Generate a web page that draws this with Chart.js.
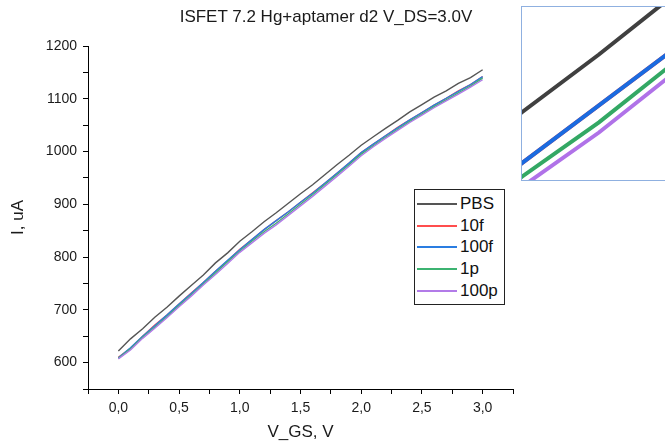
<!DOCTYPE html>
<html>
<head>
<meta charset="utf-8">
<script src="https://cdn.jsdelivr.net/npm/chart.js@4.4.1/dist/chart.umd.min.js"></script>
<style>
  body { margin: 0; width: 665px; height: 448px; overflow: hidden; background: #fff; font-family: "Liberation Sans", Arial, sans-serif; }
  #wrap { position: relative; width: 665px; height: 448px; }
  #title { position: absolute; left: 0; width: 652px; top: 7px; text-align: center; font-size: 17px; color: #1a1a1a; }
  #legend { position: absolute; left: 414px; top: 189px; width: 89px; height: 111px; border: 1px solid #222; background: #fff; padding-top: 3px; box-sizing: content-box; }
  .row { height: 21.7px; display: flex; align-items: center; font-size: 17px; color: #111; }
  .sample { width: 40px; height: 2px; margin-left: 2px; margin-right: 3px; }
  #inset { position: absolute; left: 521px; top: 6px; width: 200px; height: 173px; border: 1px solid #8fb0e0; overflow: hidden; background: #fff; }
</style>
</head>
<body>
<div id="wrap">
  <canvas id="main" width="665" height="448"></canvas>
  <div id="title">ISFET 7.2 Hg+aptamer d2 V_DS=3.0V</div>
  <div id="legend"></div>
  <div id="inset"><canvas id="zoom" width="200" height="173"></canvas></div>
</div>
<script>
// V_GS, V
const vgs = [0.0, 0.1, 0.2, 0.3, 0.4, 0.5, 0.6, 0.7, 0.8, 0.9, 1.0,
  1.1, 1.2, 1.3, 1.4, 1.5, 1.6, 1.7, 1.8, 1.9, 2.0,
  2.1, 2.2, 2.3, 2.4, 2.5, 2.6, 2.7, 2.8, 2.9, 3.0];

// I, uA
const pbs = [622, 645, 664, 686, 705, 726, 746, 766, 789, 808, 830,
  848, 867, 884, 902, 920, 937, 956, 975, 993, 1012,
  1028, 1044, 1059, 1075, 1089, 1103, 1115, 1129, 1140, 1155];
const f10 = [610, 627, 650, 671, 690, 711, 732, 752, 773, 793, 815,
  833, 852, 869, 886, 904, 922, 940, 959, 978, 998,
  1014, 1030, 1046, 1060, 1074, 1088, 1101, 1115, 1127, 1142];
const f100 = [609, 628, 650, 670, 690, 711, 731, 752, 773, 794, 814,
  833, 852, 869, 886, 904, 921, 940, 959, 978, 998,
  1014, 1030, 1045, 1060, 1074, 1088, 1101, 1114, 1127, 1142];
const p1 = [608, 626, 648, 667, 687, 708, 728, 749, 770, 791, 811,
  830, 848, 864, 882, 900, 918, 937, 956, 975, 995,
  1011, 1027, 1042, 1057, 1071, 1085, 1098, 1111, 1124, 1139];
const p100 = [607, 624, 646, 665, 685, 706, 726, 747, 767, 788, 809,
  827, 845, 861, 879, 897, 915, 934, 953, 972, 992,
  1009, 1025, 1040, 1055, 1069, 1083, 1096, 1109, 1122, 1136];

const seriesNames = ["PBS", "10f", "100f", "1p", "100p"];
const seriesData = [pbs, f10, f100, p1, p100];
const seriesColors = ["#555555", "#ff4d4d", "#2a7de1", "#3cb371", "#b27be8"];
const zoomColors = ["#404040", "#ff3b3b", "#1a6be0", "#33a864", "#b072e8"];

// zoom window of the inset
const zoomX = [1.2, 1.46];
const zoomY = [847, 898];

function makeSets(colors, width) {
  return seriesNames.map((name, i) => ({
    label: name,
    data: vgs.map((x, j) => ({ x: x, y: seriesData[i][j] })),
    borderColor: colors[i],
    backgroundColor: colors[i],
    borderWidth: width,
    pointRadius: 0,
    tension: 0,
    order: seriesNames.length - i, // later series on top
  }));
}

const tickFont = { family: "Liberation Sans", size: 14 };

new Chart(document.getElementById("main"), {
  type: "line",
  data: { datasets: makeSets(seriesColors, 1.4) },
  options: {
    responsive: false,
    animation: false,
    layout: { padding: { left: 0, top: 46, right: 152, bottom: 0 } },
    plugins: { legend: { display: false }, tooltip: { enabled: false } },
    scales: {
      x: {
        type: "linear",
        min: -0.25,
        max: 3.25,
        afterFit: (s) => { s.height = 59; },
        border: { color: "#000", width: 1 },
        grid: { drawOnChartArea: false, color: "#000", tickLength: 5 },
        ticks: {
          stepSize: 0.25,
          autoSkip: false,
          maxRotation: 0,
          padding: 6,
          color: "#1a1a1a",
          font: tickFont,
          callback: (v) => {
            const h = v * 2;
            if (Math.abs(h - Math.round(h)) < 1e-6 && v > -0.01 && v < 3.01) {
              return (Math.round(h) / 2).toFixed(1).replace(".", ",");
            }
            return "";
          },
        },
        title: { display: true, text: "V_GS, V", color: "#1a1a1a", font: { family: "Liberation Sans", size: 17 }, padding: { top: 0, bottom: 5 } },
      },
      y: {
        min: 550,
        max: 1200,
        afterFit: (s) => { s.width = 88; },
        border: { color: "#000", width: 1 },
        grid: { drawOnChartArea: false, color: "#000", tickLength: 5 },
        ticks: {
          stepSize: 50,
          autoSkip: false,
          padding: 6,
          color: "#1a1a1a",
          font: tickFont,
          callback: (v) => (Math.round(v) % 100 === 0 && v >= 600 ? String(v) : ""),
        },
        title: { display: true, text: "I, uA", color: "#1a1a1a", font: { family: "Liberation Sans", size: 17 }, padding: { top: 8, bottom: 0 } },
      },
    },
  },
});

new Chart(document.getElementById("zoom"), {
  type: "line",
  data: { datasets: makeSets(zoomColors, 4) },
  options: {
    responsive: false,
    animation: false,
    layout: { padding: 0 },
    plugins: { legend: { display: false }, tooltip: { enabled: false } },
    scales: {
      x: { type: "linear", display: false, min: zoomX[0], max: zoomX[1] },
      y: { display: false, min: zoomY[0], max: zoomY[1] },
    },
  },
});

// legend box
const legend = document.getElementById("legend");
seriesNames.forEach((name, i) => {
  const row = document.createElement("div");
  row.className = "row";
  const s = document.createElement("span");
  s.className = "sample";
  s.style.background = seriesColors[i];
  const t = document.createElement("span");
  t.textContent = name;
  row.appendChild(s);
  row.appendChild(t);
  legend.appendChild(row);
});
</script>
</body>
</html>
